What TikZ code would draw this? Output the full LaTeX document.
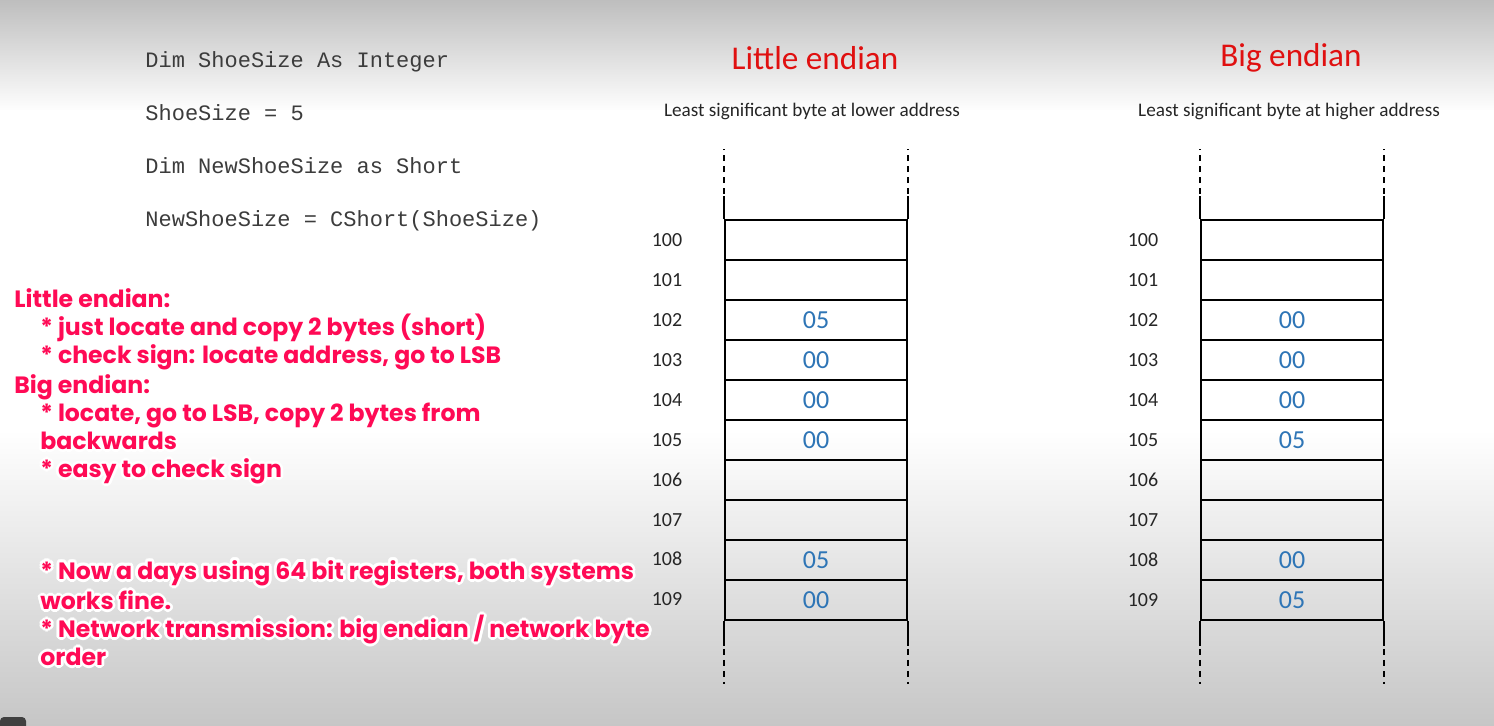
\documentclass[tikz,border=0pt]{standalone}
\usepackage{fontspec}
\setmainfont{Carlito}
\newfontfamily\codefont{Liberation Mono}
\newfontfamily\notefont{Poppins}
\usepackage{contour}
\contourlength{1.4pt}
\contournumber{12}
\usetikzlibrary{positioning}
\definecolor{endianred}{RGB}{224,16,16}
\definecolor{notepink}{RGB}{255,10,85}
\definecolor{byteblue}{RGB}{46,117,182}
\definecolor{codegray}{RGB}{60,60,60}
\definecolor{bgtop}{RGB}{190,190,190}
\definecolor{bgbot}{RGB}{198,198,198}

\begin{document}
\begin{tikzpicture}[x=0.5pt, y=-0.5pt,
    cell/.style={draw=black, line width=0.8pt, minimum width=91pt,
                 minimum height=20pt, inner sep=0pt, text=byteblue,
                 font=\fontsize{13}{15}\selectfont},
    addr/.style={text=black!85, font=\fontsize{10}{12}\selectfont},
    codeline/.style={anchor=base west, inner sep=0pt, text=codegray,
                     font=\codefont\fontsize{11}{13}\selectfont},
    title/.style={text=endianred, font=\fontsize{16.6}{19}\selectfont},
    subtitle/.style={text=black!85, font=\fontsize{9.6}{11}\selectfont},
    note/.style={anchor=north west, align=left, inner sep=0pt, text=notepink,
                 font=\notefont\bfseries\fontsize{11.8}{14}\selectfont},
    rail/.style={line width=0.8pt},
    railgap/.style={line width=0.8pt, dash pattern=on 3pt off 2.5pt}
]
    \useasboundingbox (0,0) rectangle (1494,726);
    % background
    \shade[top color=bgtop, bottom color=white] (0,0) rectangle (1494,112);
    \fill[white] (0,110) rectangle (1494,432);
    \shade[top color=white, bottom color=bgbot] (0,430) rectangle (1494,726);
    \fill[black!75, rounded corners=2pt] (0,717) rectangle (26,732);

    % code
    \node[codeline] (dim1) at (145,68) {Dim ShoeSize As Integer};
    \node[codeline] (set1) at (145,121) {ShoeSize = 5};
    \node[codeline] (dim2) at (145,174) {Dim NewShoeSize as Short};
    \node[codeline] (set2) at (145,227) {NewShoeSize = CShort(ShoeSize)};

    % headings
    \node[title] (ltitle) at (815,58) {Little endian};
    \node[subtitle] (lsub) at (812,111) {Least significant byte at lower address};
    \node[title] (btitle) at (1291,58) {Big endian};
    \node[subtitle] (bsub) at (1289,111) {Least significant byte at higher address};

    % little endian memory
    \node[cell] (l100) at (816,240) {};
    \node[cell] (l101) at (816,280) {};
    \node[cell] (l102) at (816,320) {05};
    \node[cell] (l103) at (816,360) {00};
    \node[cell] (l104) at (816,400) {00};
    \node[cell] (l105) at (816,440) {00};
    \node[cell] (l106) at (816,480) {};
    \node[cell] (l107) at (816,520) {};
    \node[cell] (l108) at (816,560) {05};
    \node[cell] (l109) at (816,600) {00};

    \node[addr] (la100) at (667,240) {100};
    \node[addr] (la101) at (667,280) {101};
    \node[addr] (la102) at (667,320) {102};
    \node[addr] (la103) at (667,360) {103};
    \node[addr] (la104) at (667,400) {104};
    \node[addr] (la105) at (667,440) {105};
    \node[addr] (la106) at (667,480) {106};
    \node[addr] (la107) at (667,520) {107};
    \node[addr] (la108) at (667,559) {108};
    \node[addr] (la109) at (667,599) {109};

    \draw[rail] (l100.north west) -- ([yshift=11.5pt]l100.north west);
    \draw[rail] (l100.north east) -- ([yshift=11.5pt]l100.north east);
    \draw[railgap] ([yshift=12.5pt]l100.north west) -- ([yshift=35pt]l100.north west);
    \draw[railgap] ([yshift=12.5pt]l100.north east) -- ([yshift=35pt]l100.north east);
    \draw[rail] (l109.south west) -- ([yshift=-12.5pt]l109.south west);
    \draw[rail] (l109.south east) -- ([yshift=-12.5pt]l109.south east);
    \draw[railgap] ([yshift=-14pt]l109.south west) -- ([yshift=-31.5pt]l109.south west);
    \draw[railgap] ([yshift=-14pt]l109.south east) -- ([yshift=-31.5pt]l109.south east);

    % big endian memory
    \node[cell] (b100) at (1292,240) {};
    \node[cell] (b101) at (1292,280) {};
    \node[cell] (b102) at (1292,320) {00};
    \node[cell] (b103) at (1292,360) {00};
    \node[cell] (b104) at (1292,400) {00};
    \node[cell] (b105) at (1292,440) {05};
    \node[cell] (b106) at (1292,480) {};
    \node[cell] (b107) at (1292,520) {};
    \node[cell] (b108) at (1292,560) {00};
    \node[cell] (b109) at (1292,600) {05};

    \node[addr] (ba100) at (1143,240) {100};
    \node[addr] (ba101) at (1143,280) {101};
    \node[addr] (ba102) at (1143,320) {102};
    \node[addr] (ba103) at (1143,360) {103};
    \node[addr] (ba104) at (1143,400) {104};
    \node[addr] (ba105) at (1143,440) {105};
    \node[addr] (ba106) at (1143,480) {106};
    \node[addr] (ba107) at (1143,520) {107};
    \node[addr] (ba108) at (1143,560) {108};
    \node[addr] (ba109) at (1143,600) {109};

    \draw[rail] (b100.north west) -- ([yshift=11.5pt]b100.north west);
    \draw[rail] (b100.north east) -- ([yshift=11.5pt]b100.north east);
    \draw[railgap] ([yshift=12.5pt]b100.north west) -- ([yshift=35pt]b100.north west);
    \draw[railgap] ([yshift=12.5pt]b100.north east) -- ([yshift=35pt]b100.north east);
    \draw[rail] (b109.south west) -- ([yshift=-12.5pt]b109.south west);
    \draw[rail] (b109.south east) -- ([yshift=-12.5pt]b109.south east);
    \draw[railgap] ([yshift=-14pt]b109.south west) -- ([yshift=-31.5pt]b109.south west);
    \draw[railgap] ([yshift=-14pt]b109.south east) -- ([yshift=-31.5pt]b109.south east);

    % notes
    \node[note] (notes) at (14,288) {%
        \contour{white}{Little endian:}\\
        \hspace*{13pt}\contour{white}{* just locate and copy 2 bytes (short)}\\
        \hspace*{13pt}\contour{white}{* check sign: locate address, go to LSB}\\
        \contour{white}{Big endian:}\\
        \hspace*{13pt}\contour{white}{* locate, go to LSB, copy 2 bytes from}\\
        \hspace*{13pt}\contour{white}{backwards}\\
        \hspace*{13pt}\contour{white}{* easy to check sign}};
    \node[note] (today) at (40,560) {%
        \contour{white}{* Now a days using 64 bit registers, both systems}\\
        \contour{white}{works fine.}\\
        \contour{white}{* Network transmission: big endian / network byte}\\
        \contour{white}{order}};
\end{tikzpicture}
\end{document}
